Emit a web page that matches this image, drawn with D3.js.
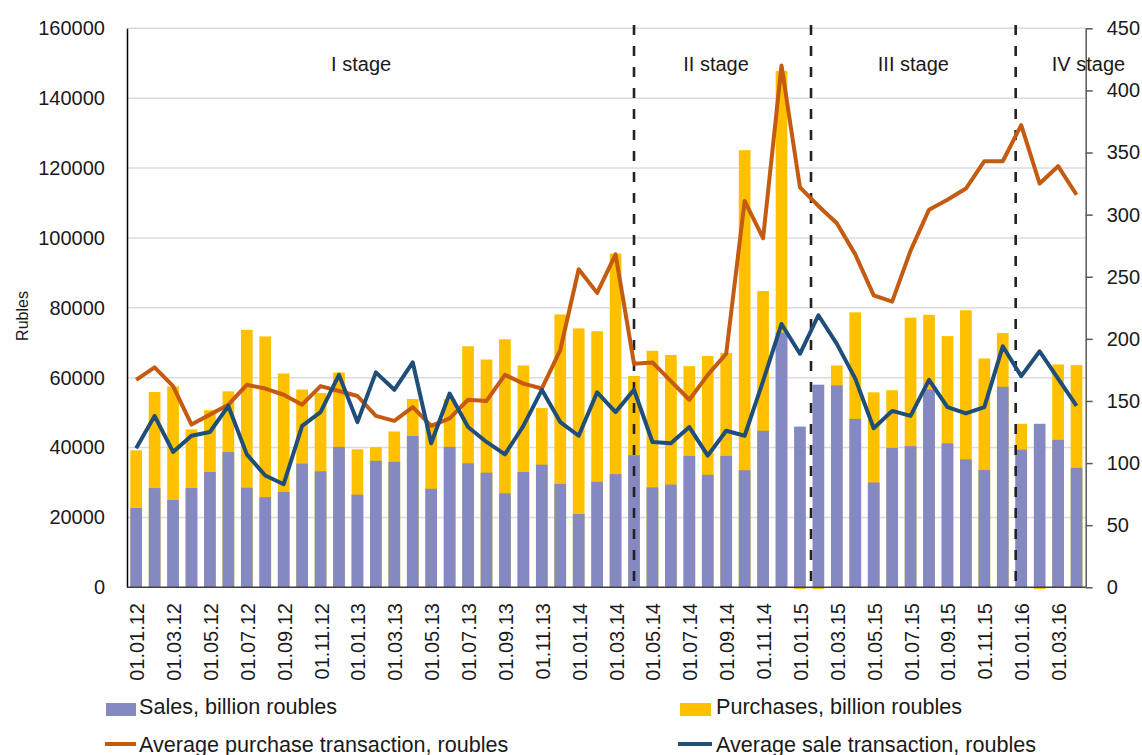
<!DOCTYPE html>
<html lang="en">
<head>
<meta charset="UTF-8">
<title>Sales, purchases and average transactions</title>
<script src="https://cdnjs.cloudflare.com/ajax/libs/d3/7.8.5/d3.min.js"></script>
<style>
  body { margin: 0; background: #fff; overflow: hidden; }
  svg { display: block; font-family: "Liberation Sans", Arial, sans-serif; }
</style>
</head>
<body>
<div id="chart"></div>
<script>
// monthly categories
const months = [
  "01.01.12","01.02.12","01.03.12","01.04.12","01.05.12","01.06.12","01.07.12","01.08.12","01.09.12","01.10.12","01.11.12","01.12.12",
  "01.01.13","01.02.13","01.03.13","01.04.13","01.05.13","01.06.13","01.07.13","01.08.13","01.09.13","01.10.13","01.11.13","01.12.13",
  "01.01.14","01.02.14","01.03.14","01.04.14","01.05.14","01.06.14","01.07.14","01.08.14","01.09.14","01.10.14","01.11.14","01.12.14",
  "01.01.15","01.02.15","01.03.15","01.04.15","01.05.15","01.06.15","01.07.15","01.08.15","01.09.15","01.10.15","01.11.15","01.12.15",
  "01.01.16","01.02.16","01.03.16","01.04.16"
];

// billion roubles (left axis)
const sales = [
  22700,28400,25000,28400,33000,38700,28500,25800,27300,35400,33200,40200,
  26500,36200,35900,43300,28200,40200,35500,32800,26900,33000,35100,29600,
  21000,30200,32400,37800,28600,29400,37600,32200,37600,33500,44800,72900,
  46000,58000,57800,48200,30000,39900,40400,56600,41200,36600,33600,57400,
  39400,46800,42200,34200
];
const purchases = [
  39200,55900,57500,45200,50700,56100,73700,71800,61200,56600,55600,61500,
  39500,40100,44600,53900,47000,53800,69000,65200,71000,63500,51300,78100,
  74100,73300,95500,60500,67700,66500,63300,66200,67100,125100,84800,147800,
  -500,-500,63500,78700,55800,56400,77200,78000,71900,79300,65500,72800,
  46800,-500,63800,63600
];

// roubles (right axis)
const avgPurchase = [
  167,177,162,131,139,147,163,160,155,147,162,158,
  154,138,134,145,130,136,151,150,171,164,160,191,
  256,237,268,180,181,166,151,171,188,311,281,420,
  322,307,293,268,235,230,271,304,312,321,343,343,
  372,325,339,316
];
const avgSale = [
  112,138,109,122,125,146,107,90,83,130,141,171,
  133,173,159,181,116,156,129,117,107,130,159,133,
  122,157,141,159,117,116,129,106,126,122,166,212,
  188,219,196,168,128,142,138,167,145,140,145,194,
  170,190,168,146
];

const leftTicks = [0,20000,40000,60000,80000,100000,120000,140000,160000];
const rightTicks = [0,50,100,150,200,250,300,350,400,450];

// stage separators and labels, in month-index units
const stageBreaks = [27, 36.6, 47.7];
const stageNames = ["I stage","II stage","III stage","IV stage"];
const stageCenters = [12.2, 31.45, 42.15, 51.65];

const W = 1142, H = 755;
const m = { left: 127, right: 1085.7, top: 28.3, bottom: 587.3 };

const svg = d3.select("#chart").append("svg").attr("width", W).attr("height", H);

const x = d3.scaleBand().domain(d3.range(months.length))
  .range([m.left, m.right]).paddingInner(0.365).paddingOuter(0.18);
const cx = i => x(0) + x.bandwidth() / 2 + i * x.step();
const yL = d3.scaleLinear().domain([0, 160000]).range([m.bottom, m.top]);
const yR = d3.scaleLinear().domain([0, 450]).range([m.bottom, m.top]);

// gridlines
svg.append("g").selectAll("line").data(leftTicks.slice(1)).join("line")
  .attr("x1", m.left).attr("x2", m.right)
  .attr("y1", d => yL(d)).attr("y2", d => yL(d))
  .attr("stroke", "#dcdcdc").attr("stroke-width", 1.5);

// bars: purchases behind, sales in front
svg.append("g").selectAll("rect").data(purchases).join("rect")
  .attr("x", (d, i) => x(i)).attr("width", x.bandwidth())
  .attr("y", d => Math.min(yL(0), yL(d)))
  .attr("height", d => Math.abs(yL(0) - yL(d)))
  .attr("fill", "#FFC000");
svg.append("g").selectAll("rect").data(sales).join("rect")
  .attr("x", (d, i) => x(i)).attr("width", x.bandwidth())
  .attr("y", d => yL(d)).attr("height", d => yL(0) - yL(d))
  .attr("fill", "#8489C1");

// axes
const leftAxis = svg.append("g").attr("transform", `translate(${m.left},0)`)
  .call(d3.axisLeft(yL).tickValues(leftTicks).tickSize(0).tickPadding(22).tickFormat(d3.format("d")));
leftAxis.select(".domain").attr("stroke", "#000").attr("stroke-width", 1.5);
leftAxis.selectAll("text").attr("font-size", 20).attr("fill", "#1a1a1a")
  .attr("font-family", "Liberation Sans, Arial, sans-serif");

const rightAxis = svg.append("g").attr("transform", `translate(${m.right},0)`)
  .call(d3.axisRight(yR).tickValues(rightTicks).tickSize(7).tickPadding(14).tickSizeOuter(0));
rightAxis.select(".domain").attr("stroke", "#595959").attr("stroke-width", 1.5);
rightAxis.selectAll(".tick line").attr("stroke", "#595959").attr("stroke-width", 1.5);
rightAxis.selectAll("text").attr("font-size", 20).attr("fill", "#1a1a1a")
  .attr("font-family", "Liberation Sans, Arial, sans-serif");

svg.append("line").attr("x1", m.left).attr("x2", m.right)
  .attr("y1", yL(0)).attr("y2", yL(0)).attr("stroke", "#404040").attr("stroke-width", 1.5);

// month labels, every other month
svg.append("g").selectAll("text").data(months.filter((d, i) => i % 2 === 0)).join("text")
  .attr("transform", (d, j) => `translate(${cx(j * 2) + 1},603) rotate(-90)`)
  .attr("text-anchor", "end").attr("dominant-baseline", "central")
  .attr("font-size", 20).attr("fill", "#1a1a1a").text(d => d);

// axis title
svg.append("text").attr("transform", "translate(22,316) rotate(-90)")
  .attr("text-anchor", "middle").attr("dominant-baseline", "central")
  .attr("font-size", 16).attr("fill", "#1a1a1a").text("Rubles");

// stage separators
svg.append("g").selectAll("line").data(stageBreaks).join("line")
  .attr("x1", d => cx(d)).attr("x2", d => cx(d))
  .attr("y1", 25).attr("y2", m.bottom)
  .attr("stroke", "#222").attr("stroke-width", 2.6).attr("stroke-dasharray", "10,11");

// lines
const lineR = d3.line().x((d, i) => cx(i)).y(d => yR(d));
svg.append("path").datum(avgPurchase).attr("d", lineR)
  .attr("fill", "none").attr("stroke", "#C55A11").attr("stroke-width", 4).attr("stroke-linejoin", "round");
svg.append("path").datum(avgSale).attr("d", lineR)
  .attr("fill", "none").attr("stroke", "#1F4E79").attr("stroke-width", 4).attr("stroke-linejoin", "round");

// stage labels
svg.append("g").selectAll("text").data(stageNames).join("text")
  .attr("x", (d, i) => cx(stageCenters[i])).attr("y", 71)
  .attr("text-anchor", "middle").attr("font-size", 20).attr("fill", "#1a1a1a").text(d => d);

// legend
const lg = svg.append("g").attr("font-size", 21.6).attr("fill", "#1a1a1a");
lg.append("rect").attr("x", 106).attr("y", 703).attr("width", 30).attr("height", 13).attr("fill", "#8489C1");
lg.append("text").attr("x", 139).attr("y", 713.5).text("Sales, billion roubles");
lg.append("rect").attr("x", 680).attr("y", 703).attr("width", 31).attr("height", 13).attr("fill", "#FFC000");
lg.append("text").attr("x", 716).attr("y", 713.5).text("Purchases, billion roubles");
lg.append("line").attr("x1", 105).attr("x2", 136).attr("y1", 744).attr("y2", 744)
  .attr("stroke", "#C55A11").attr("stroke-width", 4);
lg.append("text").attr("x", 139).attr("y", 752).text("Average purchase transaction, roubles");
lg.append("line").attr("x1", 678).attr("x2", 712).attr("y1", 744).attr("y2", 744)
  .attr("stroke", "#1F4E79").attr("stroke-width", 4);
lg.append("text").attr("x", 716).attr("y", 752).text("Average sale transaction, roubles");
</script>
</body>
</html>
